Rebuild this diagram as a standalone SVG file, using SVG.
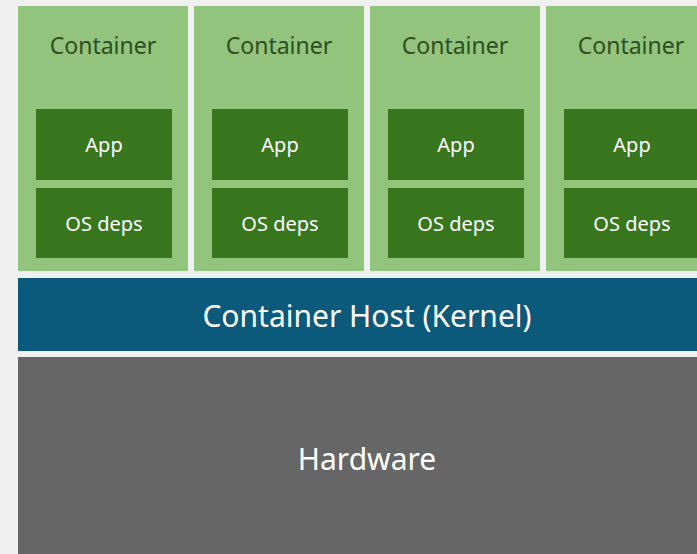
<svg xmlns="http://www.w3.org/2000/svg" width="697" height="554" viewBox="0 0 697 554">
<style>
.c{fill:#93c47d}
.i{fill:#38761d}
.ct{font-family:"Noto Sans","Liberation Sans",sans-serif;font-size:23px;fill:#2f4f22;text-anchor:middle}
.it{font-family:"Noto Sans","Liberation Sans",sans-serif;font-size:20px;fill:#ffffff;text-anchor:middle;dominant-baseline:central}
.bt{font-family:"Noto Sans","Liberation Sans",sans-serif;font-size:30px;fill:#ffffff;text-anchor:middle;dominant-baseline:central}
</style>
<rect width="697" height="554" fill="#f0f0f0"/>
<g id="container1">
<rect class="c" x="18" y="6" width="170" height="265"/>
<text class="ct" x="103" y="54">Container</text>
<rect class="i" x="36" y="109" width="136" height="71"/>
<text class="it" x="104" y="144">App</text>
<rect class="i" x="36" y="188" width="136" height="70"/>
<text class="it" x="104" y="223">OS deps</text>
</g>
<g id="container2">
<rect class="c" x="194" y="6" width="170" height="265"/>
<text class="ct" x="279" y="54">Container</text>
<rect class="i" x="212" y="109" width="136" height="71"/>
<text class="it" x="280" y="144">App</text>
<rect class="i" x="212" y="188" width="136" height="70"/>
<text class="it" x="280" y="223">OS deps</text>
</g>
<g id="container3">
<rect class="c" x="370" y="6" width="170" height="265"/>
<text class="ct" x="455" y="54">Container</text>
<rect class="i" x="388" y="109" width="136" height="71"/>
<text class="it" x="456" y="144">App</text>
<rect class="i" x="388" y="188" width="136" height="70"/>
<text class="it" x="456" y="223">OS deps</text>
</g>
<g id="container4">
<rect class="c" x="546" y="6" width="170" height="265"/>
<text class="ct" x="631" y="54">Container</text>
<rect class="i" x="564" y="109" width="136" height="71"/>
<text class="it" x="632" y="144">App</text>
<rect class="i" x="564" y="188" width="136" height="70"/>
<text class="it" x="632" y="223">OS deps</text>
</g>
<g id="host">
<rect x="18" y="278" width="700" height="73" fill="#0b5a7c"/>
<text class="bt" x="367" y="315">Container Host (Kernel)</text>
</g>
<g id="hardware">
<rect x="18" y="357" width="700" height="200" fill="#666666"/>
<text class="bt" x="367" y="458">Hardware</text>
</g>
<g id="connectors"/>
</svg>
